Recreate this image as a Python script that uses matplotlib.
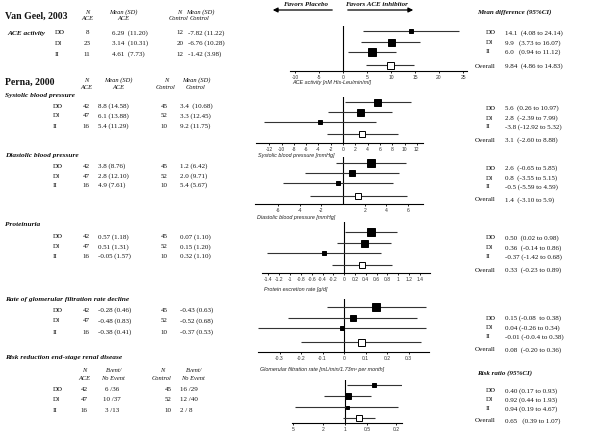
import matplotlib
matplotlib.use("Agg")
import matplotlib.pyplot as plt
from matplotlib.patches import FancyArrowPatch
from matplotlib.ticker import FixedLocator, FixedFormatter, NullLocator

# ---------------- data ----------------
groups = ["DD", "DI", "II"]

# Van Geel 2003 - ACE activity
ace_n_ace = [8, 23, 11]
ace_mean_ace = ["6.29  (11.20)", "3.14  (10.31)", "4.61  (7.73)"]
ace_n_ctl = [12, 20, 12]
ace_mean_ctl = ["-7.82 (11.22)", "-6.76 (10.28)", "-1.42 (3.98)"]
ace_est = [14.1, 9.9, 6.0, 9.84]
ace_lo = [4.08, 3.73, 0.94, 4.86]
ace_hi = [24.14, 16.07, 11.12, 14.83]
ace_txt = ["14.1  (4.08 to 24.14)", "9.9   (3.73 to 16.07)", "6.0   (0.94 to 11.12)", "9.84  (4.86 to 14.83)"]
ace_ticks = [-10, -5, 0, 5, 10, 15, 20, 25]

# Perna 2000
n_ace = [42, 47, 16]
n_ctl = [45, 52, 10]

sbp_mean_ace = ["8.8 (14.58)", "6.1 (13.88)", "5.4 (11.29)"]
sbp_mean_ctl = ["3.4  (10.68)", "3.3 (12.45)", "9.2 (11.75)"]
sbp_est = [5.6, 2.8, -3.8, 3.1]
sbp_lo = [0.26, -2.39, -12.92, -2.60]
sbp_hi = [10.97, 7.99, 5.32, 8.88]
sbp_txt = ["5.6  (0.26 to 10.97)", "2.8  (-2.39 to 7.99)", "-3.8 (-12.92 to 5.32)", "3.1  (-2.60 to 8.88)"]
sbp_ticks = [-12, -10, -8, -6, -4, -2, 0, 2, 4, 6, 8, 10, 12]

dbp_mean_ace = ["3.8 (8.76)", "2.8 (12.10)", "4.9 (7.61)"]
dbp_mean_ctl = ["1.2 (6.42)", "2.0 (9.71)", "5.4 (5.67)"]
dbp_est = [2.6, 0.8, -0.5, 1.4]
dbp_lo = [-0.65, -3.55, -5.59, -3.10]
dbp_hi = [5.85, 5.15, 4.59, 5.9]
dbp_txt = ["2.6  (-0.65 to 5.85)", "0.8  (-3.55 to 5.15)", "-0.5 (-5.59 to 4.59)", "1.4  (-3.10 to 5.9)"]
dbp_ticks = [-6, -4, -2, 2, 4, 6]

pro_mean_ace = ["0.57 (1.18)", "0.51 (1.31)", "-0.05 (1.57)"]
pro_mean_ctl = ["0.07 (1.10)", "0.15 (1.20)", "0.32 (1.10)"]
pro_est = [0.50, 0.36, -0.37, 0.33]
pro_lo = [0.02, -0.14, -1.42, -0.23]
pro_hi = [0.98, 0.86, 0.68, 0.89]
pro_txt = ["0.50  (0.02 to 0.98)", "0.36  (-0.14 to 0.86)", "-0.37 (-1.42 to 0.68)", "0.33  (-0.23 to 0.89)"]
pro_ticks = [-1.4, -1.2, -1, -0.8, -0.6, -0.4, -0.2, 0, 0.2, 0.4, 0.6, 0.8, 1, 1.2, 1.4]

gfr_mean_ace = ["-0.28 (0.46)", "-0.48 (0.83)", "-0.38 (0.41)"]
gfr_mean_ctl = ["-0.43 (0.63)", "-0.52 (0.68)", "-0.37 (0.53)"]
gfr_est = [0.15, 0.04, -0.01, 0.08]
gfr_lo = [-0.08, -0.26, -0.40, -0.20]
gfr_hi = [0.38, 0.34, 0.38, 0.36]
gfr_txt = ["0.15 (-0.08  to 0.38)", "0.04 (-0.26 to 0.34)", "-0.01 (-0.0.4 to 0.38)", "0.08  (-0.20 to 0.36)"]
gfr_ticks = [-0.3, -0.2, -0.1, 0, 0.1, 0.2, 0.3]

rr_ev_ace = ["6 /36", "10 /37", "3 /13"]
rr_ev_ctl = ["16 /29", "12 /40", "2 / 8"]
rr_est = [0.40, 0.92, 0.94, 0.65]
rr_lo = [0.17, 0.44, 0.19, 0.39]
rr_hi = [0.93, 1.93, 4.67, 1.07]
rr_txt = ["0.40 (0.17 to 0.93)", "0.92 (0.44 to 1.93)", "0.94 (0.19 to 4.67)", "0.65   (0.39 to 1.07)"]
rr_ticks = [5, 2, 1, 0.5, 0.2]

# ---------------- layout / style ----------------
W, H = 600, 435
fig = plt.figure(figsize=(6, 4.35), dpi=100)
SERIF = "Liberation Serif"
SANS = "Liberation Sans"
FS = 5.0


def T(x, y, s, **kw):
    kw.setdefault("family", SERIF)
    kw.setdefault("fontsize", FS)
    kw.setdefault("va", "center")
    kw.setdefault("color", "#111111")
    fig.text(x / W, 1 - y / H, s, **kw)


def arrow(x0, x1, y):
    a = FancyArrowPatch((x0 / W, 1 - y / H), (x1 / W, 1 - y / H), transform=fig.transFigure,
                        arrowstyle="-|>", mutation_scale=7, lw=0.9, color="black")
    fig.add_artist(a)


# top arrows
T(306, 5, "Favors Placebo", ha="center", style="italic", weight="bold")
T(345, 5, "Favors ACE inhibitor", ha="left", style="italic", weight="bold")
arrow(335, 270, 11)
arrow(345, 416, 11)


def panel(x0, x1, top, base, row0, sp, ov, xlim, ticks, est, lo, hi, sizes, xlabel, lab_dy,
          ref=0.0, log=False):
    ax = fig.add_axes([x0 / W, 1 - base / H, (x1 - x0) / W, (base - top) / H])
    ymin = -(row0 - top) / sp
    ymax = (base - row0) / sp
    ax.set_ylim(ymax, ymin)
    if log:
        ax.set_xscale("log")
    ax.set_xlim(*xlim)
    ys = [0, 1, 2, ov]
    ax.axvline(ref, color="black", lw=0.8, zorder=1)
    for i in range(4):
        ax.plot([lo[i], hi[i]], [ys[i], ys[i]], color="#333333", lw=0.8, zorder=2,
                solid_capstyle="butt")
        face = "black" if i < 3 else "white"
        ax.plot([est[i]], [ys[i]], marker="s", ms=sizes[i] * 0.72, mfc=face, mec="black",
                mew=0.7, zorder=3, linestyle="none")
    for s in ["left", "top", "right"]:
        ax.spines[s].set_visible(False)
    ax.spines["bottom"].set_linewidth(0.8)
    ax.yaxis.set_major_locator(NullLocator())
    ax.xaxis.set_major_locator(FixedLocator(ticks))
    ax.xaxis.set_minor_locator(NullLocator())
    ax.xaxis.set_major_formatter(FixedFormatter([f"{t:g}" for t in ticks]))
    ax.tick_params(axis="x", length=1.5, width=0.6, pad=0.6, labelsize=3.6, labelcolor="#333333")
    for lab in ax.get_xticklabels():
        lab.set_family(SANS)
    ax.patch.set_alpha(0)
    if xlabel:
        fig.text((x0 + 2) / W, 1 - (base + lab_dy) / H, xlabel, family=SANS, style="italic",
                 fontsize=3.9, va="center", ha="left", color="#222222")
    return ax


panel(290, 467, 27, 72, 32, 10.5, 3.2, (-11.04, 25.83), ace_ticks, ace_est, ace_lo, ace_hi,
      [5, 7, 8, 7], "ACE activity [nM His-Leu/min/ml]", 10.5)
panel(256, 423, 98, 144, 103, 9.8, 3.25, (-14.15, 13.0), sbp_ticks, sbp_est, sbp_lo, sbp_hi,
      [7, 7, 5, 6], "Systolic blood pressure [mmHg]", 11)
panel(255, 423, 158, 205, 164, 10.0, 3.3, (-8.15, 7.4), dbp_ticks, dbp_est, dbp_lo, dbp_hi,
      [8, 6, 5, 6], "Diastolic blood pressure [mmHg]", 12)
panel(262, 430, 223, 274, 233, 10.5, 3.15, (-1.52, 1.59), pro_ticks, pro_est, pro_lo, pro_hi,
      [8, 7, 4, 6], "Protein excretion rate [g/d]", 16)
panel(258, 429, 300, 353, 308, 10.5, 3.3, (-0.40, 0.395), gfr_ticks, gfr_est, gfr_lo, gfr_hi,
      [8, 6, 4, 7], "Glomerular filtration rate [mL/min/1.73m\u00b2 per month]", 16)
panel(292, 402, 381, 424, 386, 11.0, 3.0, (5.2, 0.168), rr_ticks, rr_est, rr_lo, rr_hi,
      [5, 6, 3, 6], "", 0, ref=1.0, log=True)

# ---------------- left tables ----------------
HI = dict(style="italic", ha="center", fontsize=4.6)
TS = 5.3


def header2(x, y1, y2, a, b):
    T(x, y1, a, **HI)
    T(x, y2, b, **HI)


T(5, 16, "Van Geel, 2003", weight="bold", fontsize=7)
header2(87, 12, 19, "N", "ACE")
header2(123, 12, 19, "Mean (SD)", "ACE")
header2(179, 12, 19, "N", "Control")
header2(200, 12, 19, "Mean (SD)", "Control")
T(7, 33, "ACE activity", weight="bold", style="italic", fontsize=TS)
for i, y in enumerate([33, 43.5, 54]):
    T(55, y, groups[i])
    T(87, y, str(ace_n_ace[i]), ha="center")
    T(112, y, ace_mean_ace[i])
    T(180, y, str(ace_n_ctl[i]), ha="center")
    T(188, y, ace_mean_ctl[i])

T(5, 82, "Perna, 2000", weight="bold", fontsize=7)
header2(86, 80, 87.5, "N", "ACE")
header2(118, 80, 87.5, "Mean (SD)", "ACE")
header2(166, 80, 87.5, "N", "Control")
header2(196, 80, 87.5, "Mean (SD)", "Control")

sections = [
    ("Systolic blood pressure", 95, [106, 116, 126], sbp_mean_ace, sbp_mean_ctl),
    ("Diastolic blood pressure", 156, [166, 176, 185.5], dbp_mean_ace, dbp_mean_ctl),
    ("Proteinuria", 225, [237, 247, 256.5], pro_mean_ace, pro_mean_ctl),
    ("Rate of glomerular filtration rate decline", 300, [310, 321, 332], gfr_mean_ace, gfr_mean_ctl),
]
for title, ty, rows, ma, mc in sections:
    T(5, ty, title, weight="bold", style="italic", fontsize=TS)
    for i, y in enumerate(rows):
        T(53, y, groups[i])
        T(86, y, str(n_ace[i]), ha="center")
        T(98, y, ma[i])
        T(164, y, str(n_ctl[i]), ha="center")
        T(180, y, mc[i])

T(5, 358, "Risk reduction end-stage renal disease", weight="bold", style="italic", fontsize=TS)
header2(84, 371, 379, "N", "ACE")
header2(113, 371, 379, "Event/", "No Event")
header2(162, 371, 379, "N", "Control")
header2(193, 371, 379, "Event/", "No Event")
for i, y in enumerate([390, 400, 411]):
    T(53, y, groups[i])
    T(84, y, str(n_ace[i]), ha="center")
    T(112, y, rr_ev_ace[i], ha="center")
    T(168, y, str(n_ctl[i]), ha="center")
    T(180, y, rr_ev_ctl[i])

# ---------------- right column ----------------
T(477, 12, "Mean difference (95%CI)", weight="bold", style="italic")
right = [
    (ace_txt, [33, 43, 52, 66]),
    (sbp_txt, [108, 118, 127, 140]),
    (dbp_txt, [168, 178, 187, 200]),
    (pro_txt, [238, 248, 257, 270]),
    (gfr_txt, [318, 328, 337, 350]),
    (rr_txt, [391, 400, 409, 421]),
]
T(477, 373, "Risk ratio (95%CI)", weight="bold", style="italic")
for txt, ys in right:
    for i in range(3):
        T(486, ys[i], groups[i])
        T(505, ys[i], txt[i])
    T(475, ys[3], "Overall")
    T(505, ys[3], txt[3])

fig.savefig("out.png", dpi=100)
